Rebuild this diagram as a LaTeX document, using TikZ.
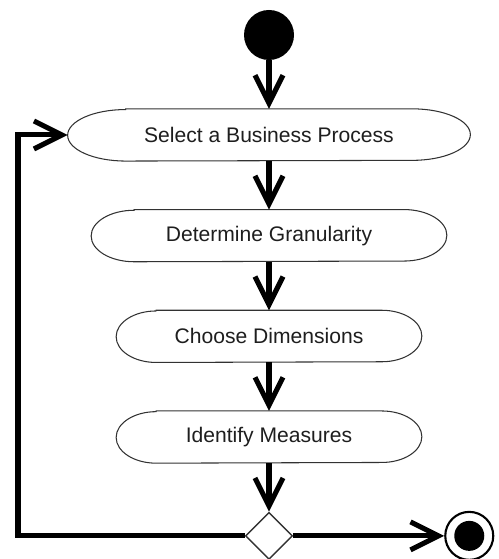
\documentclass[tikz,border=0pt]{standalone}
\usepackage{fontspec}
\setmainfont{Liberation Sans}
\usepackage{tikz}
\usetikzlibrary{positioning,arrows.meta,shapes.geometric,calc}
\definecolor{actline}{RGB}{50,50,50}
\definecolor{acttext}{RGB}{30,30,30}
\tikzset{
  act/.style={minimum width=#1, minimum height=1.03cm, inner sep=0pt, text=acttext, font=\fontsize{12}{14}\selectfont},
  actborder/.style={draw=actline, line width=0.6pt},
  arr/.style={-{Straight Barb[length=5.6mm, width=5.6mm]}, line width=2.9pt, draw=black},
  startstate/.style={circle, fill=black, minimum size=1cm, inner sep=0pt},
  endstate/.style={circle, draw=black, line width=1.2pt, minimum size=0.96cm, inner sep=0pt,
    path picture={\fill[black] (path picture bounding box.center) circle (0.3cm);}},
  decision/.style={diamond, draw=actline, line width=0.8pt, minimum width=0.94cm, minimum height=0.94cm, inner sep=0pt},
}
\begin{document}
\begin{tikzpicture}[node distance=0.97cm]
  \useasboundingbox (-5.38,0.70) rectangle (4.58,-10.48);
  \node[startstate] (start) at (0,0) {};
  \node[act=8.04cm, below=of start] (sel) {Select a Business Process};
  \node[act=7.1cm, below=of sel] (gran) {Determine Granularity};
  \node[act=6.1cm, below=of gran] (dims) {Choose Dimensions};
  \node[act=6.1cm, below=of dims] (meas) {Identify Measures};
  \node[decision, below=of meas] (dec) {};
  \node[endstate, right=3.02cm of dec] (stop) {};
  \coordinate (back) at (-5.02,0);
  % rounded ends of the activities
  \foreach \n/\rx in {sel/1.16, gran/0.86, dims/0.8, meas/0.8}{
    \draw[actborder] ($(\n.north west)+(\rx,0)$) -- ($(\n.north east)+(-\rx,0)$)
      arc[start angle=90, end angle=-90, x radius=\rx, y radius=0.515]
      -- ($(\n.south west)+(\rx,0)$)
      arc[start angle=270, end angle=90, x radius=\rx, y radius=0.515] -- cycle;
  }
  \draw[arr] (start) -- (sel);
  \draw[arr] (sel) -- (gran);
  \draw[arr] (gran) -- (dims);
  \draw[arr] (dims) -- (meas);
  \draw[arr] (meas) -- (dec);
  \draw[arr] (dec.west) -- (dec.west -| back) |- (sel.west);
  \draw[arr] (dec.east) -- (stop.west);
\end{tikzpicture}
\end{document}
